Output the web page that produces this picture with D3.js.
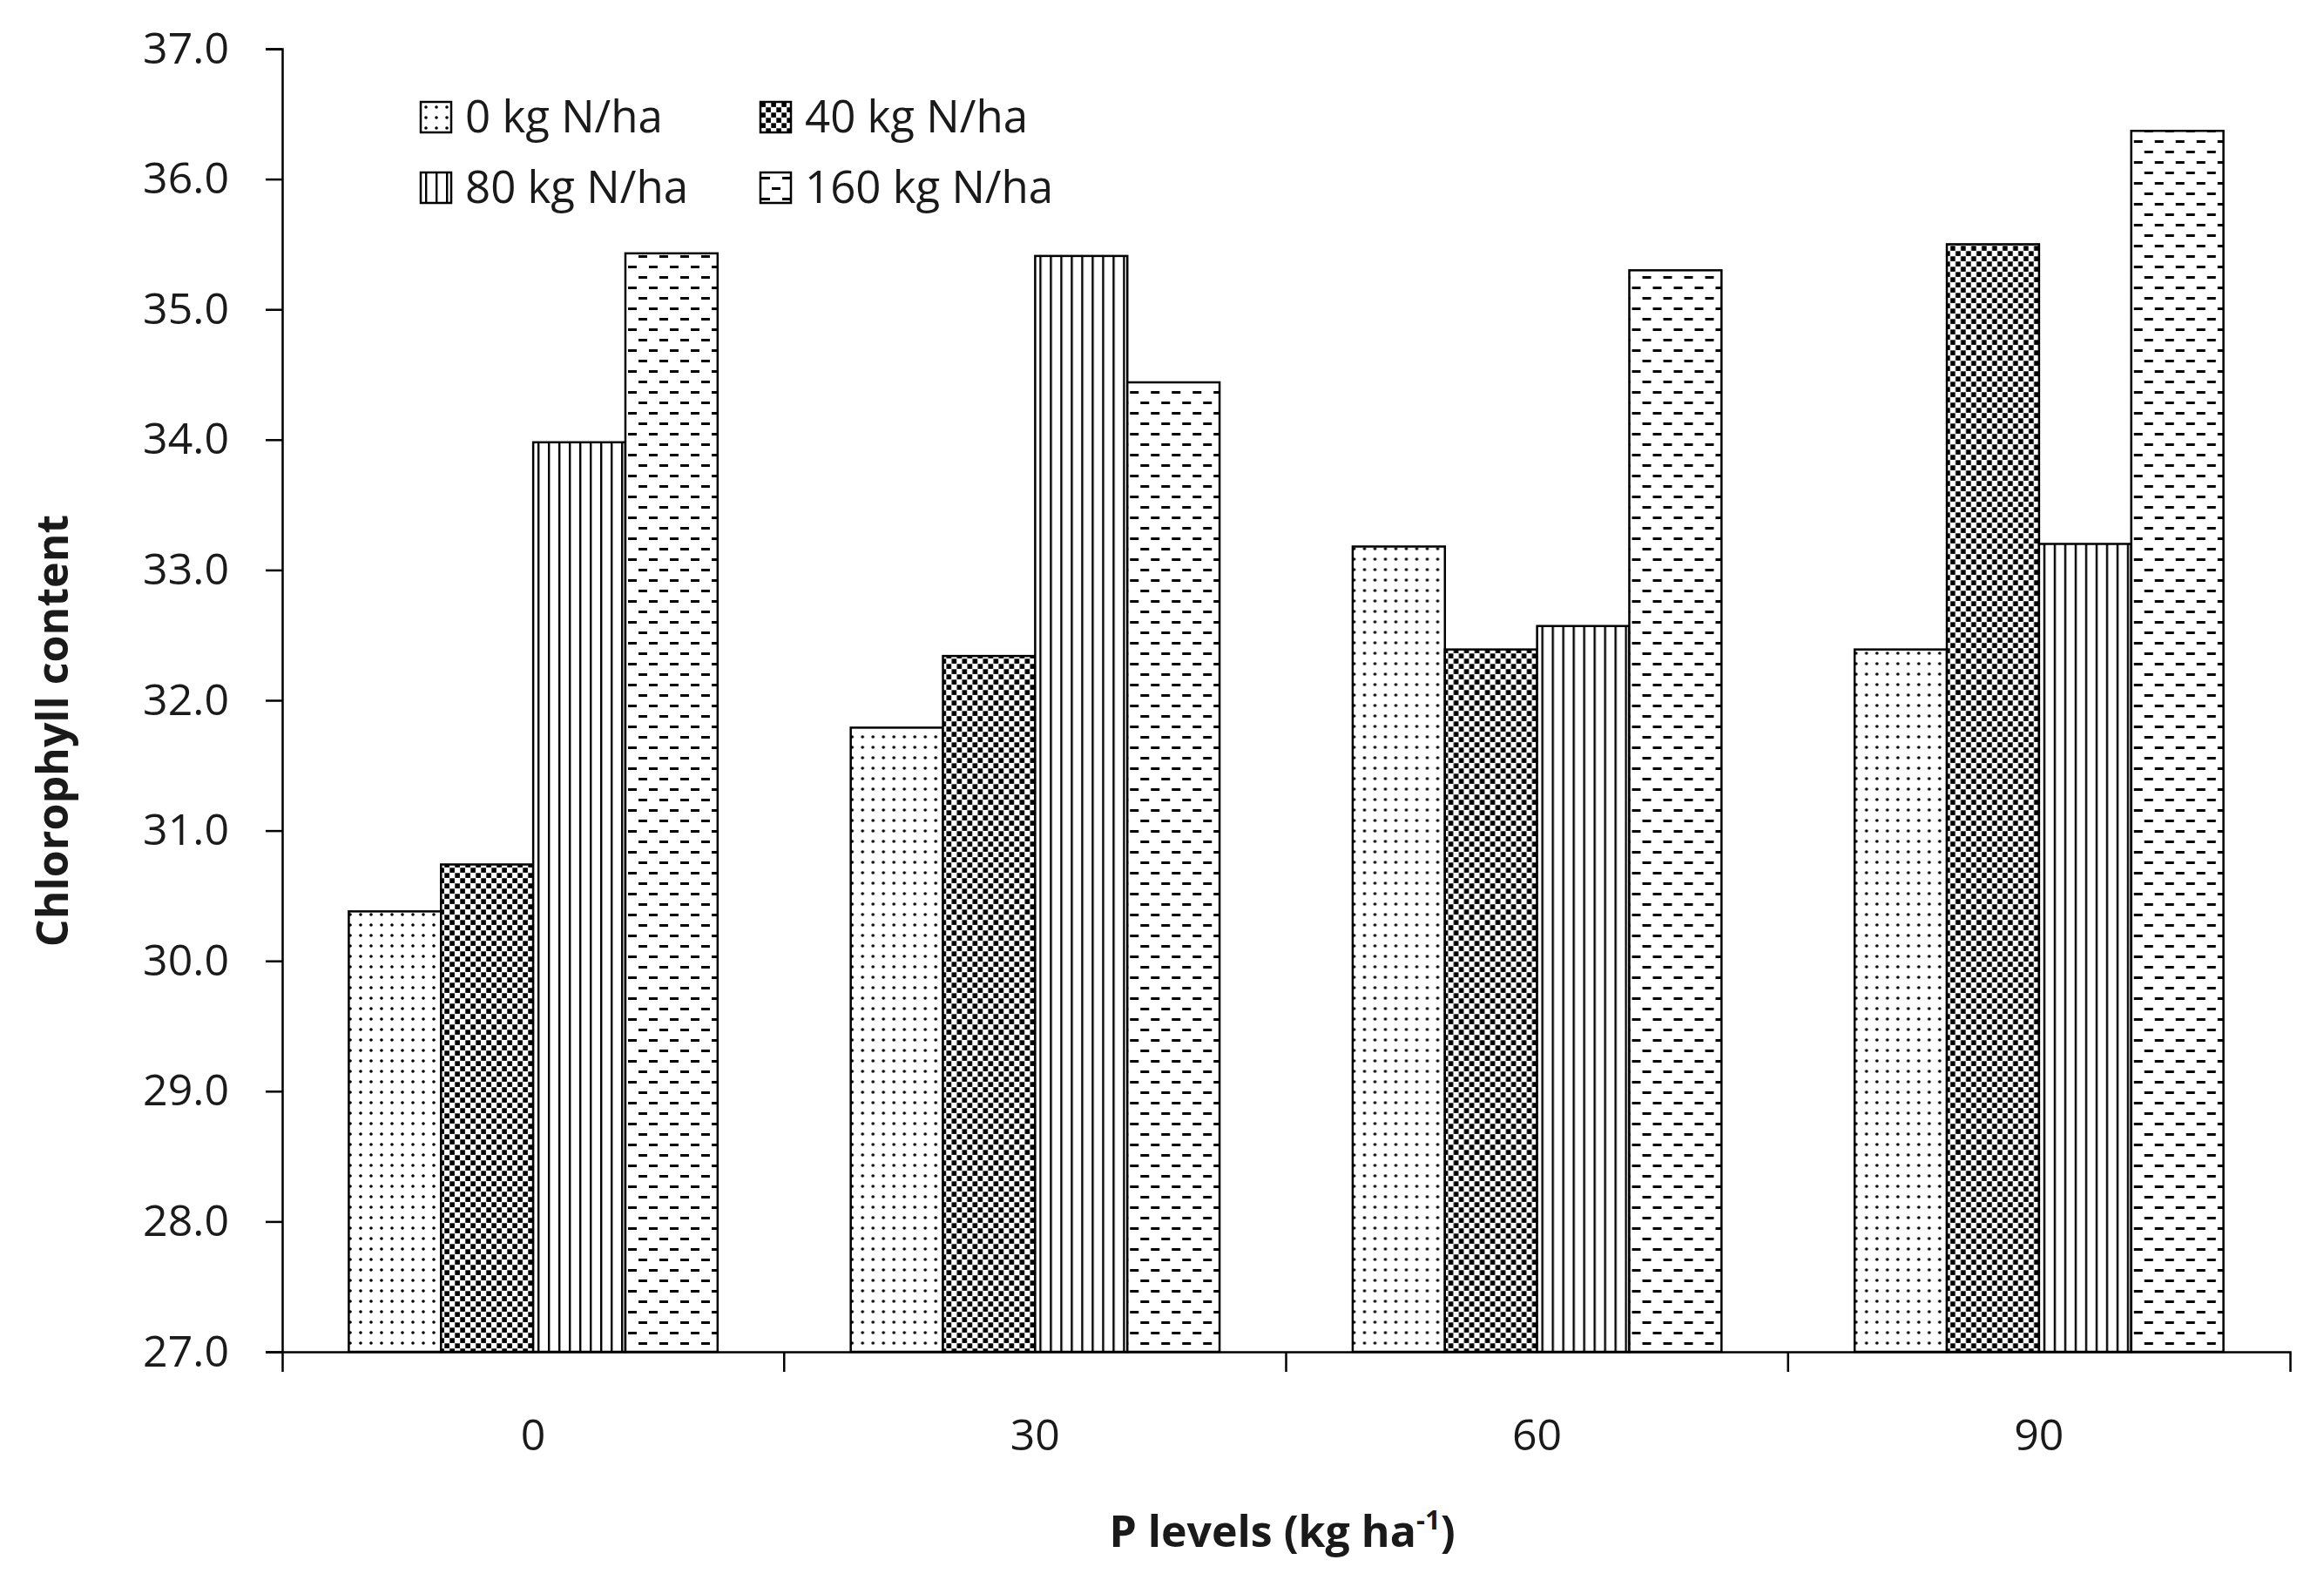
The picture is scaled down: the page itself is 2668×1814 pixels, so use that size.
<!DOCTYPE html>
<html>
<head>
<meta charset="utf-8">
<script src="https://cdn.jsdelivr.net/npm/d3@7/dist/d3.min.js"></script>
<style>
  html, body { margin: 0; padding: 0; background: #fff; }
  svg { display: block; }
  text { font-family: "Open Sans", "Noto Sans", sans-serif; fill: #1a1a1a; }
</style>
</head>
<body>
<svg id="chart" width="2668" height="1814"></svg>
<script>
// ---- data ----
const categories = ["0", "30", "60", "90"];
const seriesNames = ["0 kg N/ha", "40 kg N/ha", "80 kg N/ha", "160 kg N/ha"];
const n0   = [30.38, 31.79, 33.18, 32.39];
const n40  = [30.74, 32.34, 32.39, 35.50];
const n80  = [33.98, 35.41, 32.57, 33.20];
const n160 = [35.43, 34.44, 35.30, 36.37];
const yTickValues = [27, 28, 29, 30, 31, 32, 33, 34, 35, 36, 37];
const yTitle = "Chlorophyll content";
const xTitleMain = "P levels (kg ha";
const xTitleSup = "-1";
const xTitleEnd = ")";

const seriesValues = [n0, n40, n80, n160];
const patternIds = ["pDots", "pConfetti", "pVert", "pDash"];

// ---- layout ----
const W = 2668, H = 1814;
const plotLeft = 324, plotRight = 2629, plotTop = 56, plotBottom = 1552;

const svg = d3.select("#chart");
svg.append("rect").attr("width", W).attr("height", H).attr("fill", "#fff");

// ---- patterns ----
const defs = svg.append("defs");
const p0 = defs.append("pattern").attr("id", "pDots").attr("patternUnits", "userSpaceOnUse")
  .attr("width", 12).attr("height", 12);
p0.append("rect").attr("width", 12).attr("height", 12).attr("fill", "#fff");
p0.append("circle").attr("cx", 6).attr("cy", 6).attr("r", 1.8).attr("fill", "#000");

const p1 = defs.append("pattern").attr("id", "pConfetti").attr("patternUnits", "userSpaceOnUse")
  .attr("width", 12).attr("height", 12);
p1.append("rect").attr("width", 12).attr("height", 12).attr("fill", "#fff");
p1.append("rect").attr("x", 0.3).attr("y", 0.3).attr("width", 5.6).attr("height", 5.6).attr("fill", "#000");
p1.append("rect").attr("x", 6.3).attr("y", 6.3).attr("width", 5.6).attr("height", 5.6).attr("fill", "#000");

const p2 = defs.append("pattern").attr("id", "pVert").attr("patternUnits", "userSpaceOnUse")
  .attr("width", 12).attr("height", 12);
p2.append("rect").attr("width", 12).attr("height", 12).attr("fill", "#fff");
p2.append("rect").attr("x", 5).attr("y", 0).attr("width", 2.4).attr("height", 12).attr("fill", "#000");

const p3 = defs.append("pattern").attr("id", "pDash").attr("patternUnits", "userSpaceOnUse")
  .attr("width", 24).attr("height", 24);
p3.append("rect").attr("width", 24).attr("height", 24).attr("fill", "#fff");
p3.append("rect").attr("x", 1).attr("y", 5).attr("width", 10).attr("height", 3).attr("fill", "#000");
p3.append("rect").attr("x", 13).attr("y", 17).attr("width", 10).attr("height", 3).attr("fill", "#000");

// ---- scales ----
const x0 = d3.scaleBand().domain(categories).range([plotLeft, plotRight]).paddingInner(0).paddingOuter(0);
const x1 = d3.scaleBand().domain(d3.range(seriesNames.length))
  .range([0, x0.bandwidth()]).paddingInner(0).paddingOuter(0.722);
const y = d3.scaleLinear().domain([27, 37]).range([plotBottom, plotTop]);

// ---- bars ----
const groups = svg.append("g").selectAll("g").data(categories).join("g")
  .attr("transform", d => `translate(${x0(d)},0)`);
groups.selectAll("rect")
  .data((c, ci) => seriesValues.map((vals, si) => ({ si, v: vals[ci] })))
  .join("rect")
  .attr("x", d => x1(d.si))
  .attr("width", x1.bandwidth())
  .attr("y", d => y(d.v))
  .attr("height", d => y(27) - y(d.v))
  .attr("fill", d => `url(#${patternIds[d.si]})`)
  .attr("stroke", "#000")
  .attr("stroke-width", 2.5);

// ---- y axis ----
const yAxis = d3.axisLeft(y).tickValues(yTickValues).tickFormat(d3.format(".1f"))
  .tickSize(19).tickPadding(42);
const gy = svg.append("g").attr("transform", `translate(${plotLeft},0)`).call(yAxis);
gy.select(".domain").attr("stroke", "#000").attr("stroke-width", 2.5);
gy.selectAll(".tick line").attr("stroke", "#000").attr("stroke-width", 2.5);
gy.selectAll(".tick text").attr("font-size", 50).attr("font-family", "'Open Sans', sans-serif").attr("fill", "#222");

// ---- x axis ----
const xAxis = d3.axisBottom(x0).tickSizeInner(0).tickSizeOuter(23).tickPadding(77);
const gx = svg.append("g").attr("transform", `translate(0,${plotBottom})`).call(xAxis);
gx.select(".domain").attr("stroke", "#000").attr("stroke-width", 2.5);
gx.selectAll(".tick text").attr("font-size", 50).attr("font-family", "'Open Sans', sans-serif").attr("fill", "#222");
gx.append("g").selectAll("line").data(categories.slice(1)).join("line")
  .attr("x1", d => x0(d)).attr("x2", d => x0(d))
  .attr("y1", 0).attr("y2", 23)
  .attr("stroke", "#000").attr("stroke-width", 2.5);

// ---- axis titles ----
svg.append("text")
  .attr("transform", `translate(78,839) rotate(-90)`)
  .attr("text-anchor", "middle")
  .attr("font-size", 50).attr("font-weight", 700)
  .text(yTitle);

const xt = svg.append("text")
  .attr("x", 1472).attr("y", 1776)
  .attr("text-anchor", "middle")
  .attr("font-size", 50).attr("font-weight", 700);
xt.append("tspan").text(xTitleMain);
xt.append("tspan").attr("font-size", 31).attr("dy", -20).text(xTitleSup);
xt.append("tspan").attr("dy", 20).text(xTitleEnd);

// ---- legend ----
const legendCols = [483, 873];
const legendRows = [117, 198];
const legend = svg.append("g").selectAll("g").data(seriesNames).join("g")
  .attr("transform", (d, i) => `translate(${legendCols[i % 2]},${legendRows[Math.floor(i / 2)]})`);
legend.append("rect")
  .attr("width", 35).attr("height", 35)
  .attr("fill", (d, i) => `url(#${patternIds[i]})`)
  .attr("stroke", "#000").attr("stroke-width", 2.5);
legend.append("text")
  .attr("x", 51).attr("y", 35)
  .attr("font-size", 51)
  .attr("fill", "#222")
  .text(d => d);
</script>
</body>
</html>
